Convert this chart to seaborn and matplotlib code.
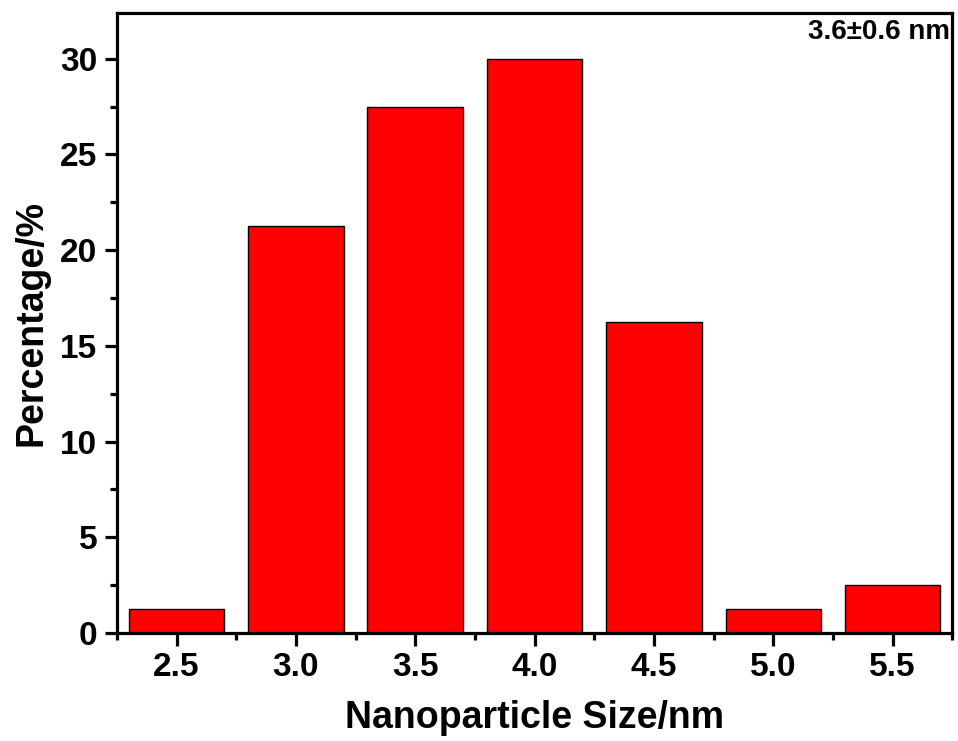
import matplotlib
matplotlib.use("Agg")
import matplotlib.pyplot as plt
from matplotlib.ticker import MultipleLocator, FixedLocator
import seaborn as sns

sizes = [2.5, 3.0, 3.5, 4.0, 4.5, 5.0, 5.5]
percentages = [1.25, 21.25, 27.5, 30.0, 16.25, 1.25, 2.5]
x_ticks = [2.5, 3.0, 3.5, 4.0, 4.5, 5.0, 5.5]
y_ticks = [0, 5, 10, 15, 20, 25, 30]

sns.set_style("white")
plt.rcParams.update({
    "font.family": ["Liberation Sans", "DejaVu Sans"],
    "font.weight": "bold",
    "text.color": "black",
    "axes.labelcolor": "black",
    "xtick.color": "black",
    "ytick.color": "black",
})

fig = plt.figure(figsize=(9.58, 7.41), dpi=100)
ax = fig.add_axes([0.122, 0.1457, 0.872, 0.837])

sns.barplot(x=sizes, y=percentages, native_scale=True, width=0.8,
            color="#ff0000", saturation=1, edgecolor="black", linewidth=1.0, ax=ax)

ax.set_xlim(2.25, 5.75)
ax.set_ylim(0, 32.4)
ax.set_xticks(x_ticks)
ax.set_xticklabels([f"{v:.1f}" for v in x_ticks])
ax.set_yticks(y_ticks)
ax.xaxis.set_minor_locator(FixedLocator([2.25, 2.75, 3.25, 3.75, 4.25, 4.75, 5.25, 5.75]))
ax.yaxis.set_minor_locator(MultipleLocator(2.5))

for s in ax.spines.values():
    s.set_linewidth(2.3)
    s.set_color("black")
ax.tick_params(which="major", direction="out", length=9, width=2.3, labelsize=24,
               bottom=True, left=True, pad=5)
ax.tick_params(which="minor", direction="out", length=5, width=2.3, bottom=True, left=True)

ax.set_xlabel("Nanoparticle Size/nm", fontsize=27, fontweight="bold", labelpad=12)
ax.set_ylabel("Percentage/%", fontsize=27, fontweight="bold", labelpad=8)

ax.text(0.997, 0.99, "3.6±0.6 nm", transform=ax.transAxes, ha="right", va="top",
        fontsize=20, fontweight="bold")

fig.savefig("out.png", dpi=100)
